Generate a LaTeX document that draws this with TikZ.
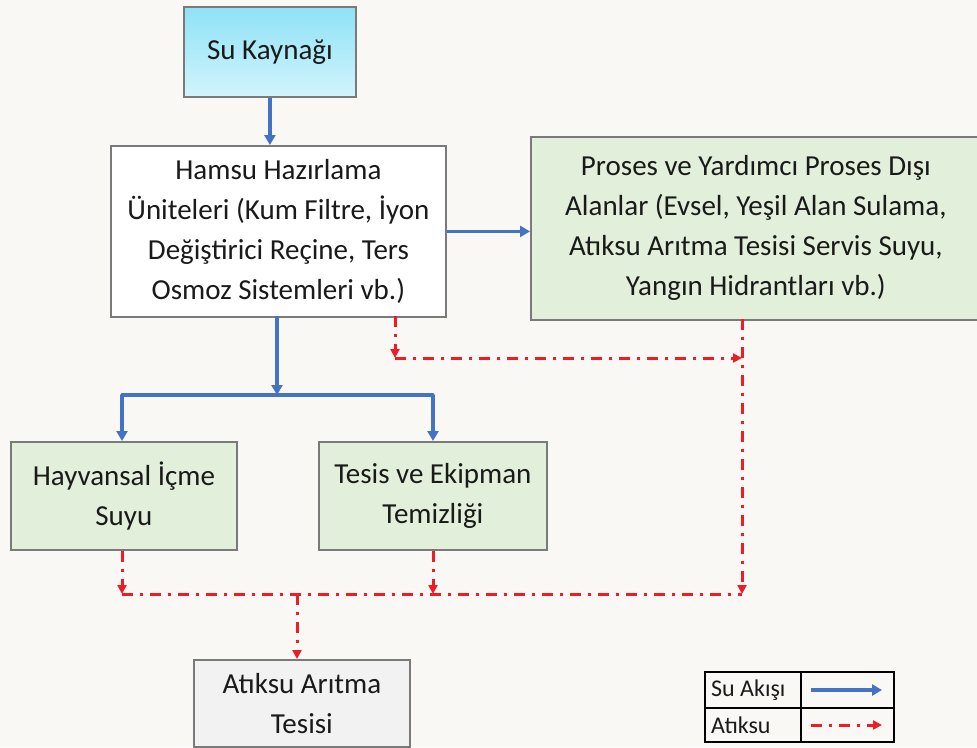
\documentclass[tikz,border=0pt]{standalone}
\usepackage{fontspec}
\setmainfont{Carlito}
\usetikzlibrary{arrows.meta}
\definecolor{bgc}{HTML}{F9F8F5}
\definecolor{boxline}{HTML}{7A7A7A}
\definecolor{greenf}{HTML}{E2EFDA}
\definecolor{greyf}{HTML}{F2F2F2}
\definecolor{cyantop}{HTML}{8EE2F6}
\definecolor{cyanbot}{HTML}{D2F4FC}
\definecolor{flowblue}{HTML}{4472C4}
\definecolor{wastered}{HTML}{EE1C25}
\definecolor{txt}{HTML}{1A1A1A}
\tikzset{
  box/.style={draw=boxline, line width=1.8pt, anchor=north west, align=center,
    text=txt, inner sep=0pt, font=\fontsize{29}{40}\selectfont},
  blueflow/.style={draw=flowblue, line width=3.2pt, -{Triangle[length=10pt,width=11pt]}},
  blueline/.style={draw=flowblue, line width=3.2pt},
  redflow/.style={draw=wastered, line width=3pt, dash pattern=on 11pt off 7pt on 3pt off 7pt,
    -{Triangle[length=9pt,width=9pt]}},
  redline/.style={draw=wastered, line width=3pt, dash pattern=on 11pt off 7pt on 3pt off 7pt},
  legtext/.style={anchor=west, text=txt, inner sep=0pt, font=\fontsize{24}{28}\selectfont}
}
\begin{document}
\begin{tikzpicture}[x=1pt,y=-1pt]
\useasboundingbox (0,0) rectangle (977,747);
\fill[bgc] (0,0) rectangle (977,747);
\begin{scope}
\clip (0,0) rectangle (977,747);
% boxes
\node[box, top color=cyantop, bottom color=cyanbot, minimum width=172pt, minimum height=90pt] (src) at (183,6) {Su Kaynağı};
\node[box, fill=white, minimum width=335pt, minimum height=171pt] (ham) at (110,145)
  {Hamsu Hazırlama\\Üniteleri (Kum Filtre, İyon\\Değiştirici Reçine, Ters\\Osmoz Sistemleri vb.)};
\node[box, fill=greenf, minimum width=450pt, minimum height=183pt] (pro) at (530,136)
  {Proses ve Yardımcı Proses Dışı\\Alanlar (Evsel, Yeşil Alan Sulama,\\Atıksu Arıtma Tesisi Servis Suyu,\\Yangın Hidrantları vb.)};
\node[box, fill=greenf, minimum width=226pt, minimum height=108pt] (hay) at (10,441)
  {Hayvansal İçme\\Suyu};
\node[box, fill=greenf, minimum width=228pt, minimum height=108pt] (tes) at (318,441)
  {Tesis ve Ekipman\\Temizliği};
\node[box, fill=greyf, minimum width=216pt, minimum height=87pt] (atk) at (193,659)
  {Atıksu Arıtma\\Tesisi};
\end{scope}
% junction coordinates
\coordinate (hb) at (277,316);
\coordinate (hj) at (277,395);
\coordinate (hl) at (122,395);
\coordinate (hr) at (433,395);
\coordinate (rh1) at (395,316);
\coordinate (rh2) at (395,358);
\coordinate (rp1) at (742,319);
\coordinate (rp2) at (742,358);
\coordinate (rp3) at (742,594);
\coordinate (ry) at (122,594);
\coordinate (rt) at (433,594);
\coordinate (rm) at (297,594);
% blue flows
\draw[blueflow] (src.south) -- (src.south |- ham.north);
\draw[blueflow] (ham.east) -- (ham.east -| pro.west);
\draw[blueflow] (hb) -- (hj);
\draw[blueline, line cap=round] (hl) -- (hr);
\draw[blueflow] (hl) -- (hl |- hay.north);
\draw[blueflow] (hr) -- (hr |- tes.north);
% red waste flows
\draw[redflow] (rh1) -- (rh2);
\draw[redflow] (rh2) -- (rp2);
\draw[redflow] (rp1) -- (rp3);
\draw[redflow] (ry |- hay.south) -- (ry);
\draw[redflow] (rt |- tes.south) -- (rt);
\draw[redline] (ry) -- (rp3);
\draw[redflow] (rm) -- (rm |- atk.north);
% legend
\coordinate (lg1) at (705,672);
\coordinate (lg2) at (894,742);
\draw[black, line width=1.5pt] (lg1) rectangle (lg2);
\draw[black, line width=1.5pt] (801,672) -- (801,742);
\draw[black, line width=1.5pt] (705,708) -- (894,708);
\node[legtext] (l1) at (711,690) {Su Akışı};
\node[legtext] (l2) at (711,725) {Atıksu};
\coordinate (la1) at (811,690);
\coordinate (la2) at (882,690);
\coordinate (lb1) at (811,725);
\coordinate (lb2) at (882,725);
\draw[blueflow] (la1) -- (la2);
\draw[redflow] (lb1) -- (lb2);
\end{tikzpicture}
\end{document}
